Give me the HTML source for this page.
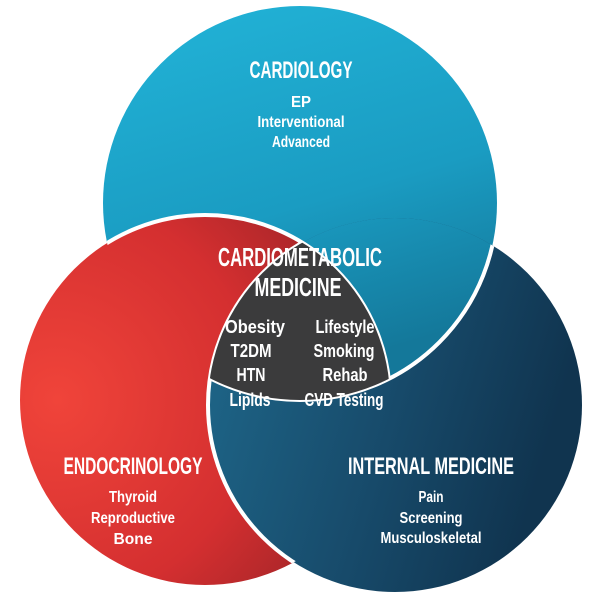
<!DOCTYPE html>
<html><head><meta charset="utf-8"><style>
html,body{margin:0;padding:0;background:#fff;}
svg{display:block;}
text{font-family:"Liberation Sans Narrow","Liberation Sans",sans-serif;font-weight:bold;fill:#fff;text-anchor:middle;}
</style></head><body>
<svg width="600" height="606" viewBox="0 0 600 606" xmlns="http://www.w3.org/2000/svg">
<defs>
<linearGradient id="gt" x1="0" y1="0" x2="0.3" y2="1">
<stop offset="0" stop-color="#22b4d8"/><stop offset="0.6" stop-color="#1a9cc2"/><stop offset="1" stop-color="#14789a"/></linearGradient>
<radialGradient id="gl" cx="0.1" cy="0.5" r="0.9">
<stop offset="0" stop-color="#f0443a"/><stop offset="0.6" stop-color="#d42f30"/><stop offset="1" stop-color="#9c2327"/></radialGradient>
<linearGradient id="gr" x1="0" y1="0" x2="1" y2="0.3">
<stop offset="0" stop-color="#1f6a8d"/><stop offset="0.6" stop-color="#174a6a"/><stop offset="1" stop-color="#10344f"/></linearGradient>
<clipPath id="cT"><circle cx="300" cy="203" r="197"/></clipPath>
<clipPath id="cL"><circle cx="205" cy="400" r="185"/></clipPath>
<clipPath id="cR"><circle cx="395" cy="405" r="187"/></clipPath>
</defs>
<circle cx="300" cy="203" r="197" fill="url(#gt)"/>
<circle cx="205" cy="400" r="185" fill="url(#gl)"/>
<circle cx="395" cy="405" r="187" fill="url(#gr)"/>
<g clip-path="url(#cR)"><circle cx="300" cy="203" r="197" fill="url(#gt)"/></g>
<g fill="none" stroke="#fff" stroke-width="4">
<circle cx="205" cy="400" r="185" clip-path="url(#cT)"/>
<circle cx="395" cy="405" r="187" clip-path="url(#cL)"/>
<circle cx="300" cy="203" r="197" clip-path="url(#cR)"/>
</g>
<g clip-path="url(#cT)"><g clip-path="url(#cL)"><circle cx="395" cy="405" r="187" fill="#3b3b3c"/></g></g>

<text x="301" y="78" font-size="24" textLength="103" lengthAdjust="spacingAndGlyphs">CARDIOLOGY</text>
<text x="301" y="107" font-size="16" textLength="20" lengthAdjust="spacingAndGlyphs">EP</text>
<text x="301" y="127" font-size="16" textLength="87" lengthAdjust="spacingAndGlyphs">Interventional</text>
<text x="301" y="147" font-size="16" textLength="58" lengthAdjust="spacingAndGlyphs">Advanced</text>

<text x="300" y="266" font-size="26" textLength="164" lengthAdjust="spacingAndGlyphs">CARDIOMETABOLIC</text>
<text x="298" y="296" font-size="26" textLength="87" lengthAdjust="spacingAndGlyphs">MEDICINE</text>
<text x="255" y="333" font-size="18" textLength="60" lengthAdjust="spacingAndGlyphs">Obesity</text>
<text x="251" y="357" font-size="18" textLength="41" lengthAdjust="spacingAndGlyphs">T2DM</text>
<text x="251" y="381" font-size="18" textLength="29" lengthAdjust="spacingAndGlyphs">HTN</text>
<text x="250" y="406" font-size="18" textLength="41" lengthAdjust="spacingAndGlyphs">Lipids</text>
<text x="345" y="333" font-size="18" textLength="59" lengthAdjust="spacingAndGlyphs">Lifestyle</text>
<text x="344" y="357" font-size="18" textLength="61" lengthAdjust="spacingAndGlyphs">Smoking</text>
<text x="345" y="381" font-size="18" textLength="45" lengthAdjust="spacingAndGlyphs">Rehab</text>
<text x="344" y="406" font-size="18" textLength="79" lengthAdjust="spacingAndGlyphs">CVD Testing</text>

<text x="133" y="474" font-size="24" textLength="139" lengthAdjust="spacingAndGlyphs">ENDOCRINOLOGY</text>
<text x="133" y="502" font-size="16" textLength="48" lengthAdjust="spacingAndGlyphs">Thyroid</text>
<text x="133" y="523" font-size="16" textLength="84" lengthAdjust="spacingAndGlyphs">Reproductive</text>
<text x="133" y="544" font-size="16" textLength="39" lengthAdjust="spacingAndGlyphs">Bone</text>

<text x="431" y="474" font-size="24" textLength="166" lengthAdjust="spacingAndGlyphs">INTERNAL MEDICINE</text>
<text x="431" y="502" font-size="16" textLength="25" lengthAdjust="spacingAndGlyphs">Pain</text>
<text x="431" y="523" font-size="16" textLength="63" lengthAdjust="spacingAndGlyphs">Screening</text>
<text x="431" y="543" font-size="16" textLength="101" lengthAdjust="spacingAndGlyphs">Musculoskeletal</text>
</svg>
</body></html>
